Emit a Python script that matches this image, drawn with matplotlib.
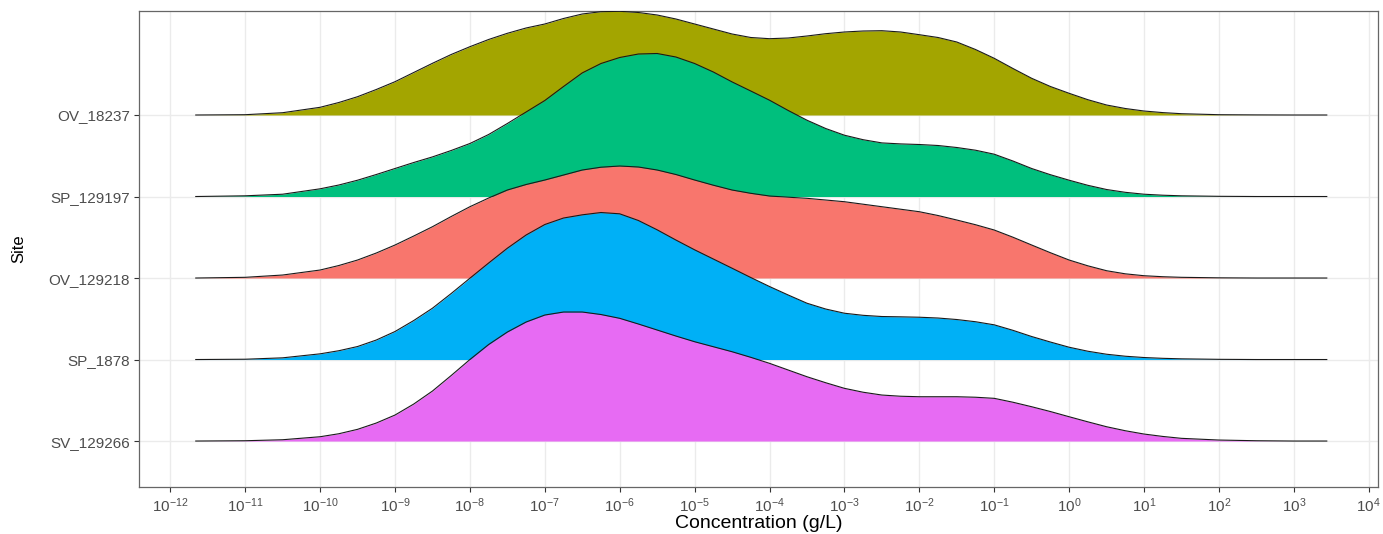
#%% Import Library
import numpy as np
import matplotlib
matplotlib.use('Agg')
import matplotlib.pyplot as plt
from matplotlib.ticker import NullLocator

#%% Modify the chart's appearance
plt.rcParams['font.family'] = ['Liberation Sans', 'DejaVu Sans']
plt.rcParams['mathtext.default'] = 'regular'
plt.rcParams['font.size'] = 11

#%% Data
sites = ['SV_129266', 'SP_1878', 'OV_129218', 'SP_129197', 'OV_18237']
colors = ['#E76BF3', '#00B0F6', '#F8766D', '#00BF7D', '#A3A500']

# log10 of concentration (g/L) where the ridges were read
log_conc = [-11.66, -11.0, -10.5,
            -10.0, -9.75, -9.5, -9.25, -9.0, -8.75, -8.5, -8.25, -8.0, -7.75, -7.5, -7.25,
            -7.0, -6.75, -6.5, -6.25, -6.0, -5.75, -5.5, -5.25, -5.0, -4.75, -4.5, -4.25,
            -4.0, -3.75, -3.5, -3.25, -3.0, -2.75, -2.5, -2.25, -2.0, -1.75, -1.5, -1.25,
            -1.0, -0.75, -0.5, -0.25, 0.0, 0.25, 0.5, 0.75, 1.0, 1.25, 1.5,
            2.0, 2.5, 3.0, 3.44]

# ridge heights (relative density, same order as log_conc)
sv_129266 = [0, 0.3, 1.3,
             4.3, 7.3, 11.7, 18, 26, 37, 50, 65.5, 81.5, 96.5, 109, 119,
             126, 129, 129, 126.5, 122.7, 117, 111, 105, 99.3, 94.3, 89.3, 83.7,
             77.7, 71, 64.3, 58.3, 52.7, 48.8, 46, 44.8, 44.3, 44.3, 44.3, 43.8,
             42.7, 38.8, 34.3, 29.5, 24.3, 19.2, 14.3, 10.3, 7, 4.6, 2.7,
             1, 0.3, 0, 0]
sp_1878 = [0, 0.3, 1.7,
           5.7, 8.8, 13, 19.5, 28, 39, 51.3, 66, 81.3, 96.5, 111.3, 124.5,
           135, 141.5, 144.7, 147, 145.7, 139, 129.7, 119.5, 109.7, 100.5, 91.3, 82,
           73, 64.5, 56.3, 50.5, 46.3, 44.2, 43, 42.7, 42.3, 41.5, 40, 37.8,
           34.7, 29.2, 23, 17.5, 12.3, 8.3, 5.3, 3.3, 2, 1.2, 0.7,
           0.2, 0, 0, 0]
ov_129218 = [0, 0.7, 3,
             8, 12.5, 18, 25, 33, 42, 51.3, 61.5, 71.3, 80, 88, 93.5,
             98, 103, 108, 110.8, 112, 111, 108, 103.5, 98, 92.8, 88, 84.7,
             82, 80.8, 79.7, 78, 76.3, 73.8, 71.3, 68.8, 66.3, 62.5, 58, 53.3,
             48, 40.8, 33, 25.3, 18, 12.2, 7.3, 4.2, 2.3, 1.3, 0.7,
             0.2, 0, 0, 0]
sp_129197 = [0, 0.7, 2.3,
             7.7, 11.5, 16.3, 22, 28, 34, 39.6, 46, 53, 62, 73, 84.5,
             96, 110, 123.6, 133, 139, 142.5, 143, 139.5, 133, 124.5, 114.6, 105.5,
             96.3, 86, 76.3, 68, 61.3, 56.8, 53.6, 52.6, 52, 51, 49, 46.3,
             42.3, 35.5, 28, 21.8, 16.3, 11.2, 7, 4.2, 2.3, 1.3, 0.7,
             0.2, 0, 0, 0]
ov_18237 = [0, 0.3, 2.3,
            7.7, 12.5, 18.3, 25.5, 33.3, 42.5, 51.7, 60.5, 68.3, 75.5, 81.7, 87,
            91, 96.5, 101, 103.3, 103.7, 102.5, 100, 96, 91, 86, 81, 77.5,
            76.3, 77, 79, 81.3, 83, 84, 84.3, 83, 80.3, 77.5, 73, 65.5,
            56.7, 46.5, 36.7, 28.5, 21.7, 15.3, 10, 6.5, 4, 2.4, 1.3,
            0.3, 0.1, 0, 0]

heights = [sv_129266, sp_1878, ov_129218, sp_129197, ov_18237]
ridge_scale = 81.5  # height units per row

#%% Plot
fig = plt.figure(figsize=(13.83, 5.34), dpi=100)
ax = fig.add_axes([0.1005, 0.0880, 0.8959, 0.8914])

conc = 10.0 ** np.array(log_conc)
n = len(sites)
for i in range(n - 1, -1, -1):
    base = i + 1
    top = base + np.array(heights[i]) / ridge_scale
    z = 2 + (n - i) * 2
    ax.fill_between(conc, base, top, color=colors[i], lw=0, zorder=z)
    ax.plot(conc, top, color='#1a1a1a', lw=0.8, zorder=z + 1)

ax.set_xscale('log')
ax.set_xlim(10 ** -12.418, 10 ** 4.124)
ax.set_ylim(0.436, 6.276)

ticks = list(range(-12, 5))
ax.set_xticks([10.0 ** k for k in ticks])
ax.set_xticklabels([f'$10^{{{k}}}$' for k in ticks])
ax.xaxis.set_minor_locator(NullLocator())
ax.set_yticks(range(1, n + 1))
ax.set_yticklabels(sites)

ax.grid(True, color='#EBEBEB', lw=1.0, zorder=0)
ax.set_axisbelow(True)
ax.tick_params(axis='both', colors='#333333', labelcolor='#4D4D4D',
               length=3.5, width=0.8, pad=3, labelsize=11)
for s in ax.spines.values():
    s.set_color('#666666')
    s.set_linewidth(0.9)

ax.set_xlabel('Concentration (g/L)', fontsize=14, labelpad=0)
ax.set_ylabel('Site', fontsize=12, labelpad=16)

fig.savefig('out.png', dpi=100)
